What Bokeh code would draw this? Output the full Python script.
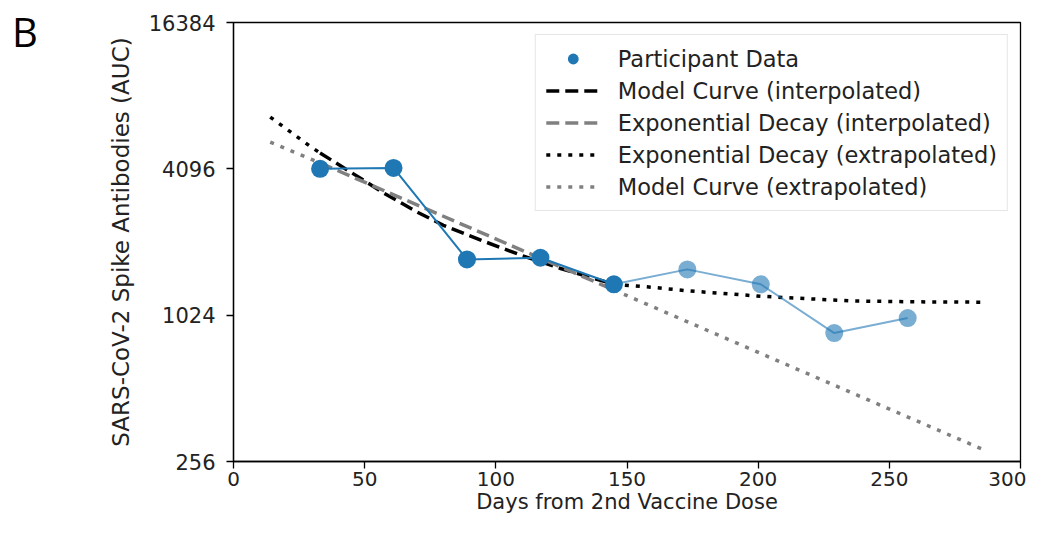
from bokeh.plotting import figure
from bokeh.layouts import row
from bokeh.models import (FixedTicker, Legend, LegendItem, Div,
                          NumeralTickFormatter)
from bokeh.embed import file_html
from bokeh.resources import INLINE

NAN = float("nan")

# ---- data ----
x_ticks = [0, 50, 100, 150, 200, 250, 300]
y_ticks = [256, 1024, 4096, 16384]

# participant measurements (first five = fitting window, last four = later follow-up)
fit_days = [33, 61, 89, 117, 145]
fit_auc = [4096, 4130, 1737, 1764, 1372]
later_days = [145, 173, 201, 229, 257]
later_auc = [1372, 1580, 1372, 864, 996]

# black dashed
model_interp_days = [33, 45, 57, 70, 80, 95, 110, 125, 145]
model_interp_auc = [4760, 3950, 3270, 2720, 2400, 2070, 1800, 1590, 1372]

# grey dashed
expo_interp_days = [33, 145]
expo_interp_auc = [4330, 1300]

# black dotted (NaN = gap over the fitting window)
expo_extrap_days = [14, 29, 33, NAN, 145, 160, 173, 190, 201, 220, 235, 260, 285]
expo_extrap_auc = [6690, 5090, 4760, NAN, 1372, 1333, 1290, 1250, 1225, 1195, 1172, 1162, 1158]

# grey dotted
model_extrap_days = [14, 33, NAN, 145, 285]
model_extrap_auc = [5280, 4330, NAN, 1300, 289]

BLUE = "#1f77b4"
FONT = "DejaVu Sans"
PANEL_W = 60

p = figure(width=1026 - PANEL_W, height=517, y_axis_type="log",
           x_range=(0, 300), y_range=(256, 16384),
           output_backend="svg", toolbar_location=None,
           min_border_left=233 - PANEL_W, min_border_right=6,
           min_border_top=22, min_border_bottom=56)

p.xgrid.visible = False
p.ygrid.visible = False
p.outline_line_color = "black"
p.outline_line_width = 1.3
p.background_fill_color = "white"
p.border_fill_color = "white"

p.xaxis.ticker = FixedTicker(ticks=x_ticks)
p.yaxis.ticker = FixedTicker(ticks=y_ticks)
p.yaxis.formatter = NumeralTickFormatter(format="0")
for ax in (p.xaxis[0], p.yaxis[0]):
    ax.major_tick_out = 7
    ax.major_tick_in = 0
    ax.minor_tick_out = 0
    ax.minor_tick_in = 0
    ax.axis_line_color = "black"
    ax.axis_line_width = 1.3
    ax.major_tick_line_color = "black"
    ax.major_tick_line_width = 1.3
    ax.major_label_text_font = FONT
    ax.major_label_text_color = "#222222"
    ax.axis_label_text_font = FONT
    ax.axis_label_text_font_style = "normal"
    ax.axis_label_text_color = "#222222"

p.xaxis.major_label_text_font_size = "20px"
p.yaxis.major_label_text_font_size = "21px"
p.xaxis.axis_label_text_font_size = "21px"
p.yaxis.axis_label_text_font_size = "23px"

p.xaxis.axis_label = "Days from 2nd Vaccine Dose"
p.yaxis.axis_label = "SARS-CoV-2 Spike Antibodies (AUC)"
p.xaxis.major_label_standoff = 3
p.xaxis.axis_label_standoff = 1
p.yaxis.major_label_standoff = 11
p.yaxis.axis_label_standoff = 12

r_model_i = p.line(model_interp_days, model_interp_auc, line_color="black",
                   line_width=3.5, line_dash="13 6")
r_expo_i = p.line(expo_interp_days, expo_interp_auc, line_color="gray",
                  line_width=3.5, line_dash="13 6")
r_expo_e = p.line(expo_extrap_days, expo_extrap_auc, line_color="black",
                  line_width=3.5, line_dash="4 7")
r_model_e = p.line(model_extrap_days, model_extrap_auc, line_color="gray",
                   line_width=3.5, line_dash="4 7")

p.line(later_days, later_auc, line_color=BLUE, line_alpha=0.6, line_width=2)
p.line(fit_days, fit_auc, line_color=BLUE, line_width=2)
p.scatter(later_days[1:], later_auc[1:], size=18, fill_color=BLUE,
          fill_alpha=0.6, line_color=None)
r_pts = p.scatter(fit_days, fit_auc, size=18, fill_color=BLUE, line_color=None)

legend = Legend(items=[
    LegendItem(label="Participant Data", renderers=[r_pts]),
    LegendItem(label="Model Curve (interpolated)", renderers=[r_model_i]),
    LegendItem(label="Exponential Decay (interpolated)", renderers=[r_expo_i]),
    LegendItem(label="Exponential Decay (extrapolated)", renderers=[r_expo_e]),
    LegendItem(label="Model Curve (extrapolated)", renderers=[r_model_e]),
], location="top_right")
legend.label_text_font = FONT
legend.label_text_font_size = "22.5px"
legend.label_text_color = "#222222"
legend.glyph_width = 54
legend.glyph_height = 27
legend.label_height = 27
legend.label_standoff = 18
legend.spacing = 5
legend.padding = 10
legend.margin = 12
legend.border_line_color = "#cccccc"
legend.border_line_width = 1.3
legend.background_fill_alpha = 0.85
p.add_layout(legend)

panel_label = Div(text="B", width=PANEL_W - 10, height=60,
                  styles={"font-family": "Open Sans", "font-size": "40px",
                          "line-height": "40px", "color": "black",
                          "padding-top": "7px", "padding-left": "7px"})

layout = row(panel_label, p)
open("out.html", "w").write(file_html(layout, INLINE))
